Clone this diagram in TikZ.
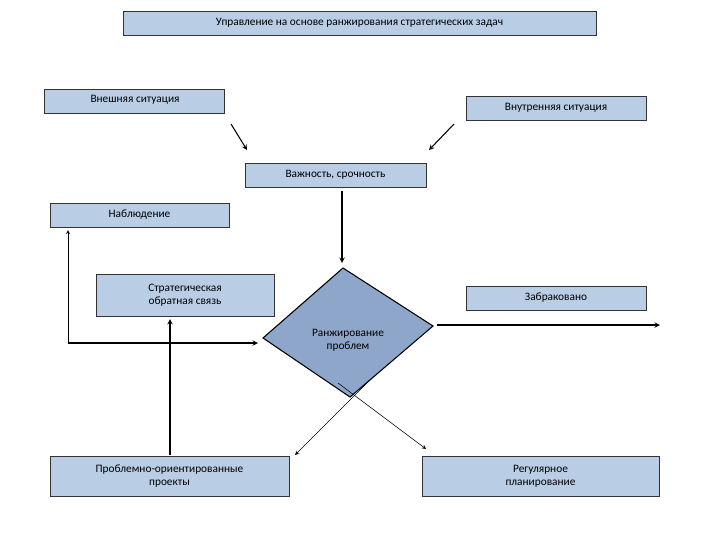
\documentclass[tikz,border=0pt]{standalone}
\usepackage{fontspec}
\setmainfont{Carlito}
\definecolor{bx}{RGB}{185,205,229}
\definecolor{dm}{RGB}{142,166,202}
\begin{document}
\begin{tikzpicture}[x=0.75pt,y=-0.75pt,
 box/.style={draw=black!80,fill=bx,font=\fontsize{8.5}{10}\selectfont,align=center,inner sep=0pt},
 ar/.style={-stealth,thick},
 ln/.style={-stealth}]
\useasboundingbox (0,0) rectangle (720,540);
\node[box,minimum width=473*0.75pt,minimum height=24*0.75pt] (t) at (359.5,23) {Управление на основе ранжирования стратегических задач};
\node[box,minimum width=180*0.75pt,minimum height=24*0.75pt,anchor=north west] (v) at (44,89) {};
\node[font=\fontsize{8.5}{10}\selectfont] (vt) at (135,100) {Внешняя ситуация};
\node[box,minimum width=180*0.75pt,minimum height=24*0.75pt] (w) at (556,108) {Внутренняя ситуация};
\node[box,minimum width=181*0.75pt,minimum height=24*0.75pt] (i) at (335.5,175) {Важность, срочность};
\node[box,minimum width=179*0.75pt,minimum height=24*0.75pt] (n) at (139.5,215) {Наблюдение};
\node[box,minimum width=178*0.75pt,minimum height=42*0.75pt] (s) at (185,295) {Стратегическая\\обратная связь};
\node[box,minimum width=180*0.75pt,minimum height=24*0.75pt] (z) at (556,298) {Забраковано};
\node[box,minimum width=239*0.75pt,minimum height=40*0.75pt] (p) at (169.5,476) {Проблемно-ориентированные\\проекты};
\node[box,minimum width=237*0.75pt,minimum height=40*0.75pt] (r) at (540.5,476) {Регулярное\\планирование};
\draw[thick,fill=dm] (343,268) -- (433,326) -- (350,397) -- (263,338) -- cycle;
\node[font=\fontsize{8.5}{10}\selectfont,align=center] (d) at (348,340) {Ранжирование\\проблем};
\coordinate (a1s) at (231,124); \coordinate (a1e) at (247,150);
\coordinate (a2s) at (454,124); \coordinate (a2e) at (429,150);
\draw[ar] (a1s) -- (a1e);
\draw[ar] (a2s) -- (a2e);
\coordinate (c1) at (342,191); \coordinate (c2) at (342,263);
\draw[ar] (c1) -- (c2);
\coordinate (l0) at (68,343); \coordinate (l1) at (68,230); \coordinate (l2) at (258,343);
\draw[ln] (l0) -- (l1);
\draw[ar] (l0) -- (l2);
\coordinate (f0) at (170,455); \coordinate (f1) at (170,319);
\draw[ar] (f0) -- (f1);
\coordinate (g0) at (437,325); \coordinate (g1) at (660,325);
\draw[ar] (g0) -- (g1);
\coordinate (x1) at (372,378); \coordinate (x2) at (295,455);
\coordinate (y1) at (338,383); \coordinate (y2) at (426,449);
\draw[ln] (x1) -- (x2);
\draw[ln] (y1) -- (y2);
\end{tikzpicture}
\end{document}
